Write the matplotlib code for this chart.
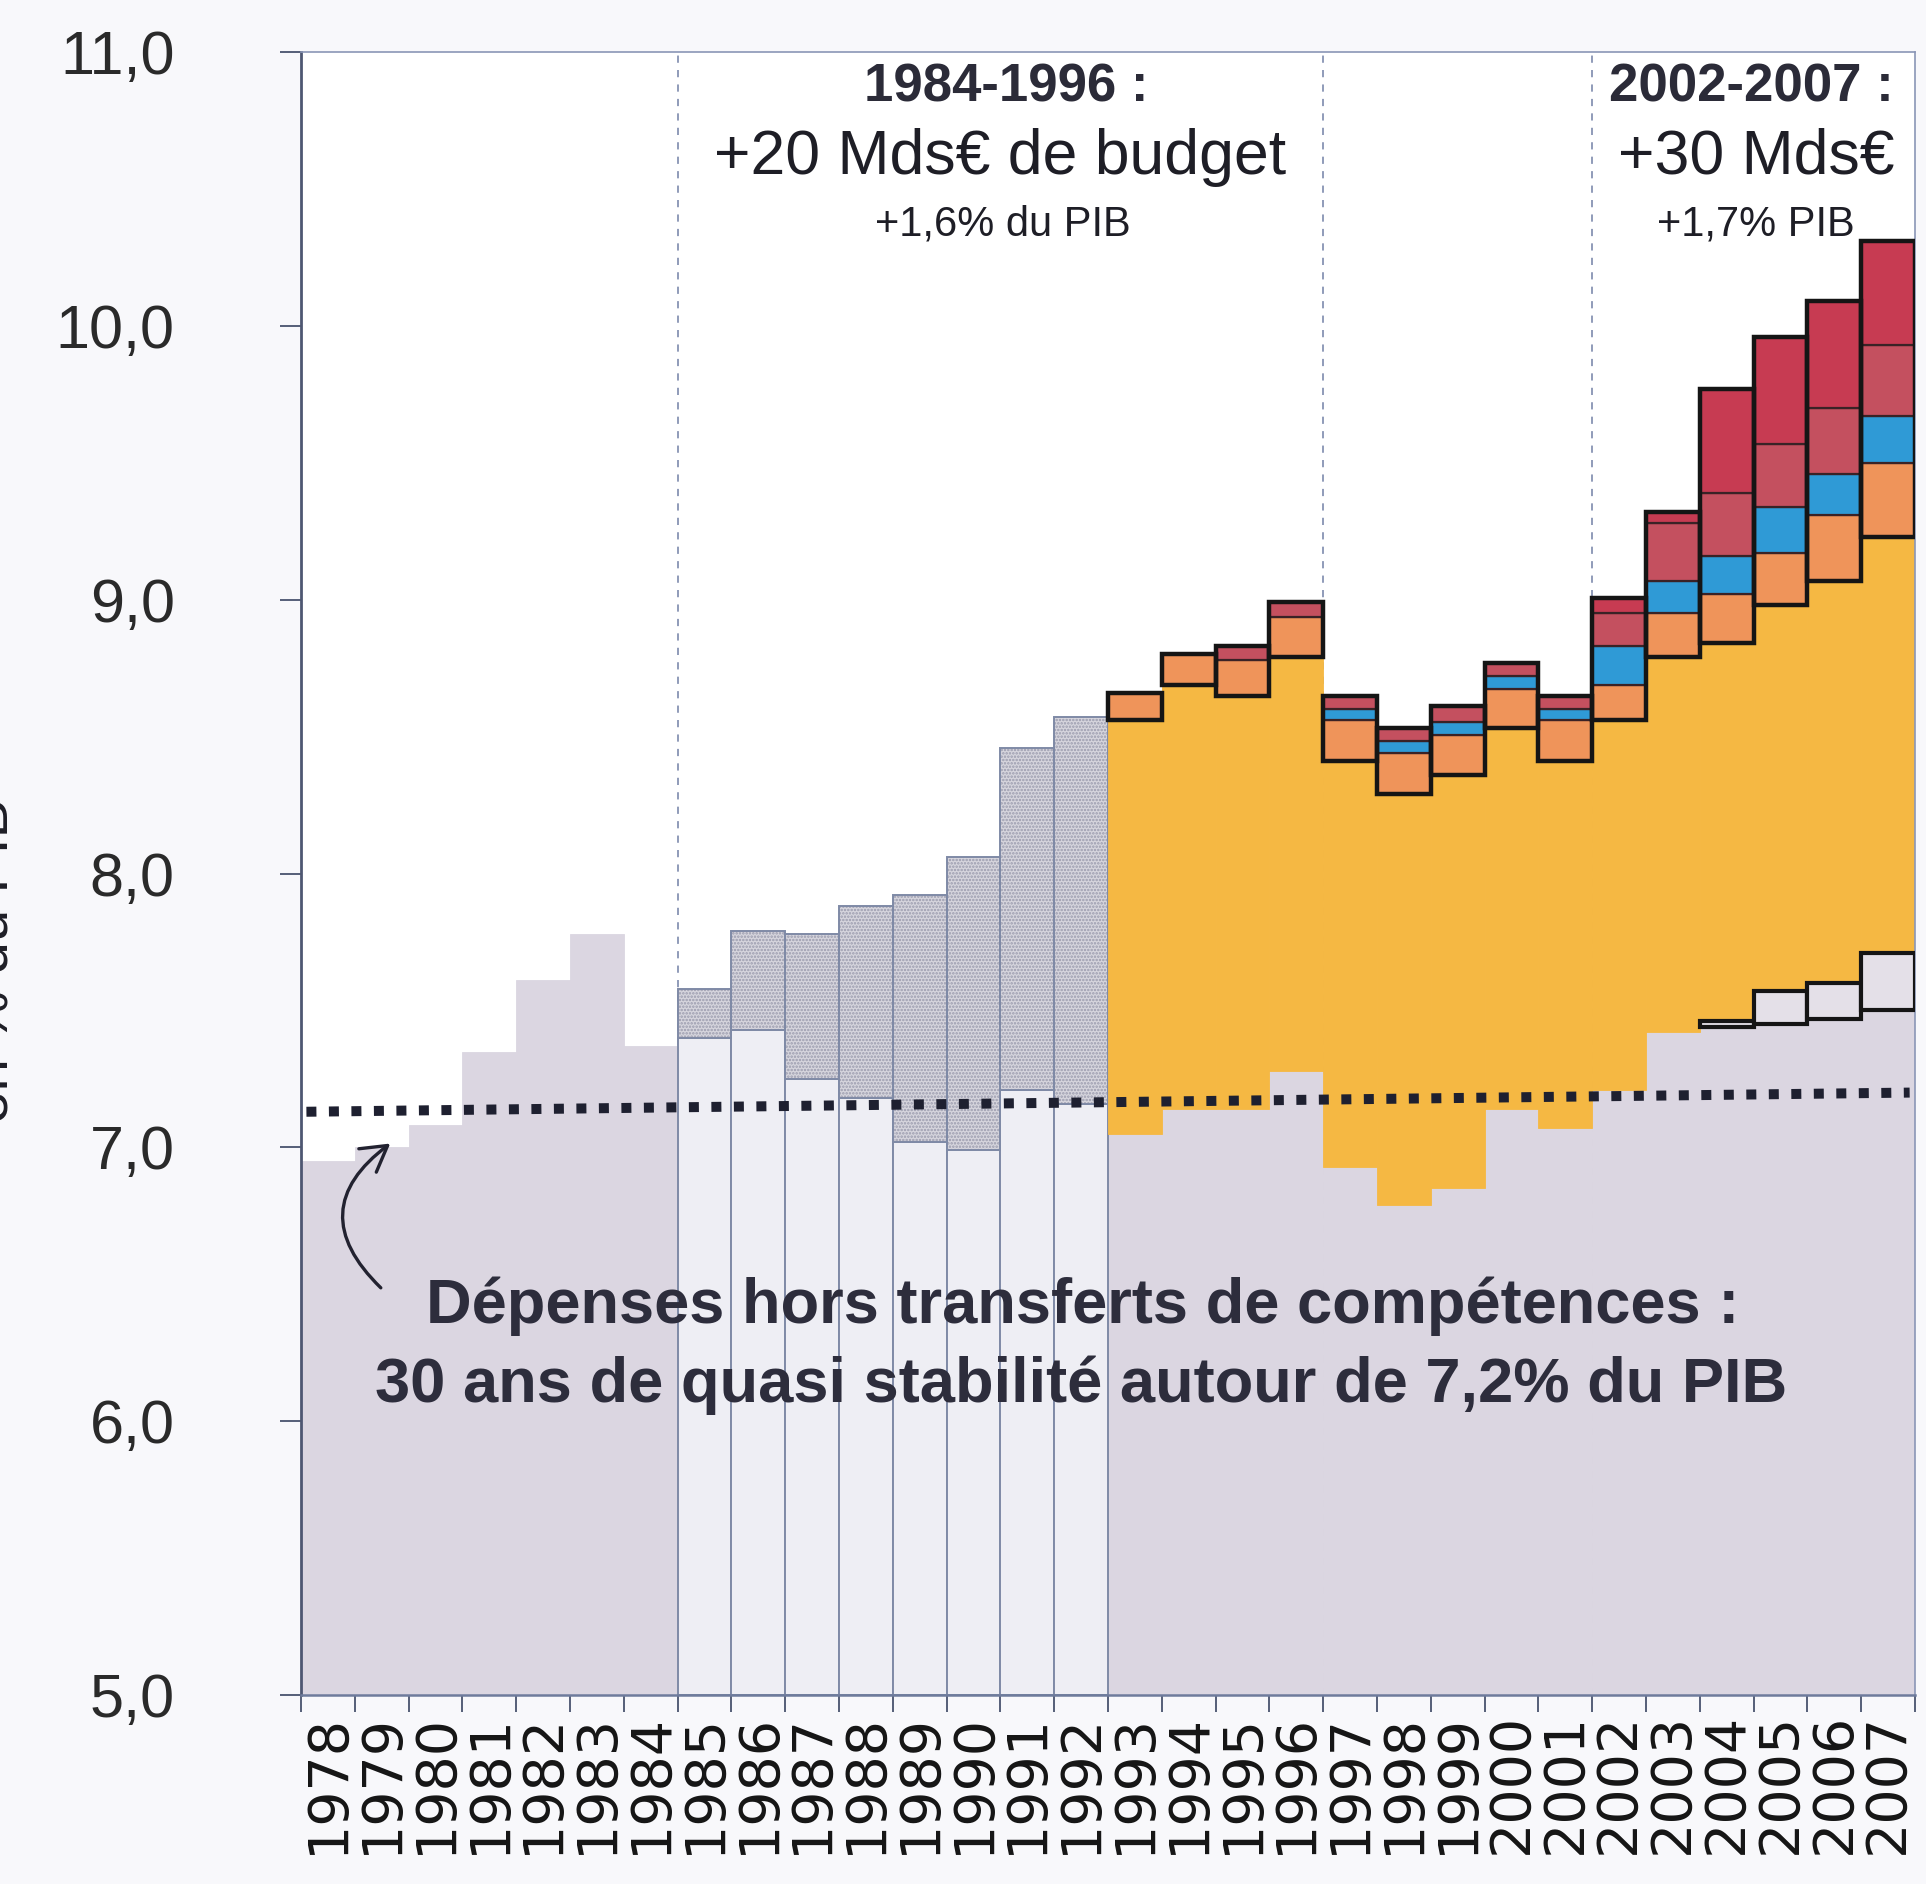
import numpy as np
import matplotlib.pyplot as plt
from matplotlib.patches import FancyArrowPatch

plt.rcParams['font.family'] = ['Liberation Sans', 'DejaVu Sans']

years = np.arange(1978, 2008)
year_labels = [str(y) for y in years]

# périodes
yrs_a = np.arange(1978, 1985)   # avant 1985
yrs_b = np.arange(1985, 1993)   # 1985-1992
yrs_c = np.arange(1993, 2008)   # 1993-2007

# dépenses hors transferts de compétences (% du PIB)
base_a = [6.95, 7.00, 7.08, 7.35, 7.61, 7.78, 7.37]
base_b = [7.40, 7.43, 7.25, 7.18, 7.02, 6.99, 7.21, 7.16]
base_c = [7.05, 7.14, 7.14, 7.28, 6.93, 6.79, 6.85, 7.14, 7.07, 7.21,
          7.42, 7.44, 7.45, 7.47, 7.50]

# 1985-1992 : transferts (hachuré)
hatch_b = [0.18, 0.36, 0.53, 0.70, 0.90, 1.07, 1.25, 1.41]

# 1993-2007 : composantes empilées
new_c = [0, 0, 0, 0, 0, 0, 0, 0, 0, 0, 0, 0.02, 0.12, 0.13, 0.21]
yellow_c = [1.51, 1.55, 1.51, 1.51, 1.48, 1.50, 1.51, 1.39, 1.34, 1.35,
            1.37, 1.38, 1.41, 1.47, 1.52]
orange_c = [0.10, 0.11, 0.13, 0.145, 0.15, 0.15, 0.145, 0.145, 0.15, 0.13,
            0.16, 0.18, 0.19, 0.24, 0.27]
blue_c = [0, 0, 0, 0, 0.04, 0.045, 0.05, 0.045, 0.04, 0.14,
          0.12, 0.14, 0.17, 0.15, 0.17]
red2_c = [0, 0, 0.05, 0.055, 0.05, 0.045, 0.055, 0.05, 0.05, 0.12,
          0.21, 0.23, 0.23, 0.24, 0.26]
red1_c = [0, 0, 0, 0, 0, 0, 0, 0, 0, 0.055,
          0.04, 0.38, 0.39, 0.39, 0.38]

# tendance pointillée
trend = [7.13, 7.20]

grey = '#dbd6e1'
white_box = '#eeeef4'
outline_b = '#7f8aa6'
yellow = '#f5b843'
orange = '#ef945a'
blue = '#2f9ad6'
red2 = '#c4505f'
red1 = '#c73b52'
dark = '#2b2b38'

plt.rcParams['hatch.linewidth'] = 1.2

fig = plt.figure(figsize=(19.26, 18.84), dpi=100, facecolor='#f8f8fb')
ax = fig.add_axes([0.1563, 0.1003, 0.8380, 0.8721])
ax.set_facecolor('white')

Y0 = 5.0

# lignes verticales en tirets
for xv in [1984.5, 1996.5, 2001.5]:
    ax.axvline(xv, color='#8793b3', lw=1.3, ls=(0, (4, 4)), zorder=1)

# gris de base
ax.bar(yrs_a, np.array(base_a) - Y0, bottom=Y0, width=1, color=grey,
       edgecolor=grey, lw=0.6, zorder=2)
ax.bar(yrs_c, np.array(base_c) - Y0, bottom=Y0, width=1, color=grey,
       edgecolor=grey, lw=0.6, zorder=2)

# 1985-1992 : boites blanches + partie hachurée
ax.bar(yrs_b, np.array(base_b) - Y0, bottom=Y0, width=1, color=white_box,
       edgecolor=outline_b, lw=1.4, zorder=2)
ax.bar(yrs_b, hatch_b, bottom=base_b, width=1, color='#d6d5dd',
       edgecolor='none', lw=0, zorder=2)
ax.bar(yrs_b, hatch_b, bottom=base_b, width=1, color='none',
       edgecolor='#9a9bad', hatch='.....', lw=0, zorder=2)
ax.bar(yrs_b, hatch_b, bottom=base_b, width=1, color='none',
       edgecolor=outline_b, lw=1.4, zorder=2)

# 1993-2007
base_c = np.array(base_c)
new_c = np.array(new_c)
m = new_c > 0
ax.bar(yrs_c[m], new_c[m], bottom=base_c[m], width=1, color='#e4e0e8',
       edgecolor='#151515', lw=3, zorder=3)
bot = base_c + new_c
ax.bar(yrs_c, yellow_c, bottom=bot, width=1, color=yellow,
       edgecolor=yellow, lw=0.6, zorder=2)
bot = bot + np.array(yellow_c)
stack_bot = bot.copy()
for vals, col in [(orange_c, orange), (blue_c, blue), (red2_c, red2), (red1_c, red1)]:
    vals = np.array(vals)
    k = vals > 0
    ax.bar(yrs_c[k], vals[k], bottom=bot[k], width=1, color=col,
           edgecolor='#3a2226', lw=1.6, zorder=3)
    bot = bot + vals
ax.bar(yrs_c, bot - stack_bot, bottom=stack_bot, width=1, fill=False,
       edgecolor='#151515', lw=3.2, zorder=4)

# ligne pointillée
ax.plot([years[0] - 0.4, years[-1] + 0.4], trend, color='#1e2030', lw=7.2,
        ls=(0, (1, 1.25)), dash_capstyle='butt', zorder=5)

# axes
ax.set_xlim(years[0] - 0.5, years[-1] + 0.5)
ax.set_ylim(5, 11)
ax.set_yticks(np.arange(5, 12))
ax.set_yticklabels([f'{v},0' for v in range(5, 12)], fontsize=44, color='#2a2a2a')
ax.tick_params(axis='y', length=15, width=1.4, pad=76, color='#555e78')
ax.set_xticks(years)
ax.set_xticklabels(year_labels, rotation=90, fontsize=40,
                   family=['DejaVu Sans'], color='#151515')
ax.tick_params(axis='x', which='major', length=0, pad=13)
ax.set_xticks(np.append(years - 0.5, years[-1] + 0.5), minor=True)
ax.tick_params(axis='x', which='minor', length=12, width=1.4, color='#555e78')
for s in ['top', 'right']:
    ax.spines[s].set_color('#8a96b6')
    ax.spines[s].set_linewidth(1.2)
ax.spines['left'].set_color('#4e5772')
ax.spines['left'].set_linewidth(2)
ax.spines['bottom'].set_color('#6e7b9c')
ax.spines['bottom'].set_linewidth(1.8)

# textes
ax.text(1990.6, 10.87, '1984-1996 :', ha='center', va='center', fontsize=38,
        fontweight='bold', color=dark, zorder=6)
ax.text(1990.5, 10.615, '+20 Mds€ de budget', ha='center', va='center',
        fontsize=45, color='#1e1e26', zorder=6)
ax.text(1990.55, 10.37, '+1,6% du PIB', ha='center', va='center',
        fontsize=30, color='#1e1e26', zorder=6)
ax.text(2004.45, 10.87, '2002-2007 :', ha='center', va='center', fontsize=38,
        fontweight='bold', color=dark, zorder=6)
ax.text(2004.55, 10.615, '+30 Mds€', ha='center', va='center',
        fontsize=45, color='#1e1e26', zorder=6)
ax.text(2004.55, 10.37, '+1,7% PIB', ha='center', va='center',
        fontsize=30, color='#1e1e26', zorder=6)

ax.text(1992.02, 6.42, 'Dépenses hors transferts de compétences :',
        ha='center', va='center', fontsize=45.5, fontweight='bold',
        color='#2d2d3c', zorder=6)
ax.text(1992.0, 6.13, '30 ans de quasi stabilité autour de 7,2% du PIB',
        ha='center', va='center', fontsize=45.5, fontweight='bold',
        color='#2d2d3c', zorder=6)

arrow = FancyArrowPatch((1979.02, 6.48), (1979.2, 7.02),
                        connectionstyle='arc3,rad=-0.6',
                        arrowstyle='->,head_length=0.6,head_width=0.35',
                        mutation_scale=30, lw=2.4, color='#222230', zorder=6)
ax.add_patch(arrow)

fig.text(20 / 1926, 0.49, 'en % du PIB', rotation=90, ha='right', va='center',
         fontsize=42, color='#1e1e26')

fig.savefig('out.png', dpi=100, facecolor=fig.get_facecolor())
